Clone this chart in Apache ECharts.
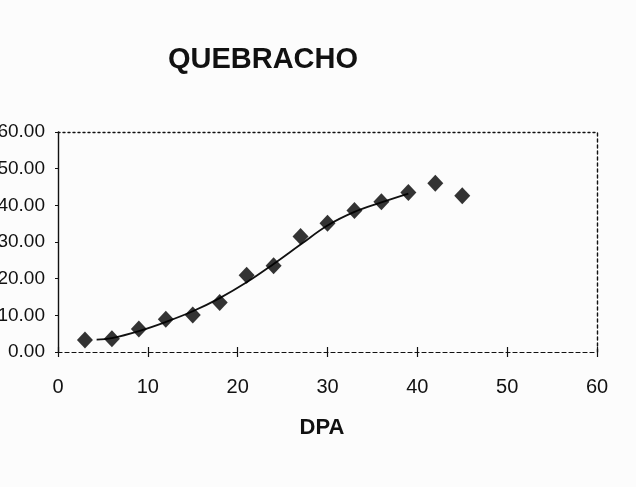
<!DOCTYPE html>
<html>
<head>
<meta charset="utf-8">
<script src="https://cdn.jsdelivr.net/npm/echarts@6/dist/echarts.min.js"></script>
<style>
  html, body { margin: 0; padding: 0; background: #fcfcfc; }
  #chart { width: 636px; height: 487px; }
</style>
</head>
<body>
<div id="chart"></div>
<script>
// Days post anthesis and measured values (diamonds)
const dpa = [3, 6, 9, 12, 15, 18, 21, 24, 27, 30, 33, 36, 39, 42, 45];
const measured = [3.3, 3.6, 6.3, 8.9, 10.1, 13.5, 20.9, 23.5, 31.5, 35.1, 38.6, 41.0, 43.5, 46.0, 42.6];

// Fitted growth curve
const fitDpa = [4.3, 6, 9, 12, 15, 18, 21, 24, 27, 30, 33, 36, 39];
const fitValue = [3.4, 3.8, 5.7, 8.2, 11.1, 14.7, 19.0, 24.0, 29.3, 34.5, 38.2, 40.8, 43.2];

// Axis ranges
const xRange = [0, 60, 10];
const yRange = [0, 60, 10];

const titleText = 'QUEBRACHO';
const xName = 'DPA';

const sans = '"Liberation Sans", Arial, sans-serif';

const chart = echarts.init(document.getElementById('chart'), null, { renderer: 'canvas' });

const hidden = { show: false };

chart.setOption({
  backgroundColor: '#fcfcfc',
  animation: false,
  title: [
    {
      text: titleText,
      left: 258, top: 40, textAlign: 'center',
      textStyle: { fontFamily: sans, fontWeight: 'bold', fontSize: 29, color: '#111' }
    },
    {
      text: xName,
      left: 317, top: 412, textAlign: 'center',
      textStyle: { fontFamily: sans, fontWeight: 'bold', fontSize: 22, color: '#111' }
    }
  ],
  grid: {
    left: 58, right: 39, top: 132, bottom: 135,
    containLabel: false, outerBoundsMode: 'none'
  },
  xAxis: [
    {
      type: 'value', position: 'bottom',
      min: xRange[0], max: xRange[1], interval: xRange[2],
      axisLine: { show: true, onZero: false, lineStyle: { color: '#111', width: 1.2, type: [4, 3] } },
      axisTick: { show: true, inside: false, length: 5, lineStyle: { color: '#111', width: 1.2 } },
      axisLabel: { margin: 25, fontFamily: sans, fontSize: 20, color: '#111' },
      splitLine: hidden
    },
    {
      type: 'value', position: 'bottom',
      min: xRange[0], max: xRange[1], interval: xRange[2],
      axisLine: { show: false, onZero: false },
      axisTick: { show: true, inside: true, length: 5, lineStyle: { color: '#111', width: 1.2 } },
      axisLabel: hidden,
      splitLine: hidden
    },
    {
      type: 'value', position: 'top',
      min: xRange[0], max: xRange[1], interval: xRange[2],
      axisLine: { show: true, onZero: false, lineStyle: { color: '#111', width: 1.4, type: [2, 3] } },
      axisTick: hidden, axisLabel: hidden, splitLine: hidden
    }
  ],
  yAxis: [
    {
      type: 'value', position: 'left',
      min: yRange[0], max: yRange[1], interval: yRange[2],
      axisLine: { show: true, onZero: false, lineStyle: { color: '#111', width: 1.4 } },
      axisTick: { show: true, inside: false, length: 3, lineStyle: { color: '#111', width: 1 } },
      axisLabel: {
        margin: 13, fontFamily: sans, fontSize: 19, color: '#111',
        formatter: v => v.toFixed(2)
      },
      splitLine: hidden
    },
    {
      type: 'value', position: 'right',
      min: yRange[0], max: yRange[1], interval: yRange[2],
      axisLine: { show: true, onZero: false, lineStyle: { color: '#111', width: 1.4, type: [3, 3] } },
      axisTick: hidden, axisLabel: hidden, splitLine: hidden
    }
  ],
  series: [
    {
      type: 'line',
      xAxisIndex: 0, yAxisIndex: 0,
      data: fitDpa.map((x, i) => [x, fitValue[i]]),
      smooth: 0.4,
      showSymbol: false,
      lineStyle: { color: '#111', width: 1.8 },
      z: 2
    },
    {
      type: 'scatter',
      xAxisIndex: 0, yAxisIndex: 0,
      data: dpa.map((x, i) => [x, measured[i]]),
      symbol: 'diamond',
      symbolSize: [16, 17],
      itemStyle: { color: '#000' },
      z: 3
    }
  ]
});
</script>
</body>
</html>
